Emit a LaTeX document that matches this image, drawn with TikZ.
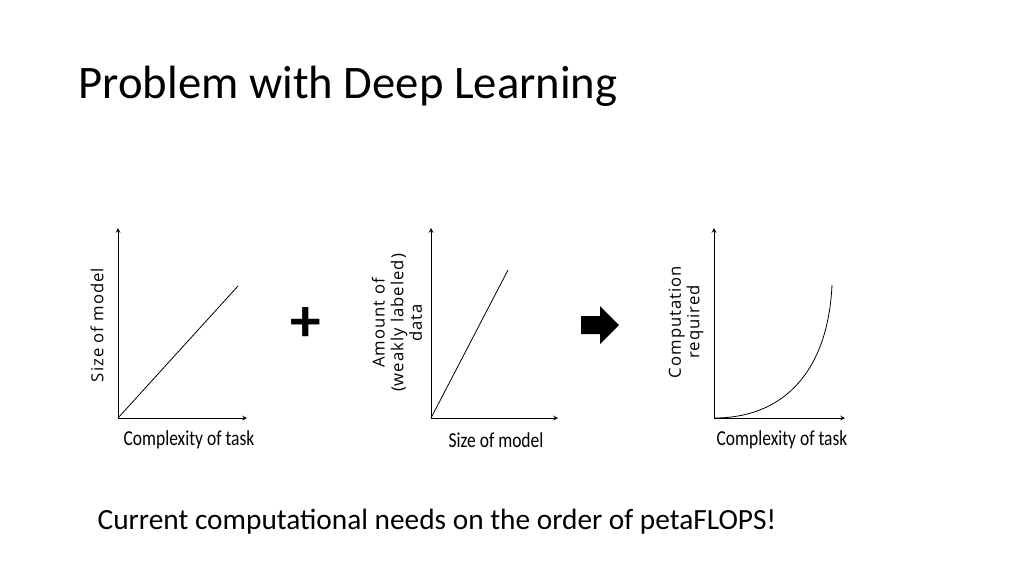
\documentclass[tikz,border=0pt]{standalone}
\usepackage{fontspec}
\setmainfont{Carlito}
\newfontfamily\ylabfont[LetterSpace=6]{Open Sans}
\begin{document}
\begin{tikzpicture}[x=0.75pt,y=-0.75pt,
                    axis/.style={->,semithick,>=stealth},
                    curve/.style={semithick},
                    xlab/.style={font=\fontsize{16}{18}\selectfont,xscale=0.82},
                    ylab/.style={font=\ylabfont\fontsize{12.5}{14}\selectfont,rotate=90,align=center}
                   ]
  \useasboundingbox (0,0) rectangle (1024,576);
  \node[anchor=west,font=\fontsize{35}{38}\selectfont] (title) at (74,86) {Problem with Deep Learning};
  % first chart
  \coordinate (o1) at (118,418);
  \coordinate (y1) at (118,228);
  \coordinate (x1) at (247,418);
  \coordinate (e1) at (238,286);
  \draw[axis] (o1) -- (y1);
  \draw[axis] (o1) -- (x1);
  \draw[curve] (o1) -- (e1);
  \node[ylab] (ylab1) at (97,325) {Size of model};
  \node[xlab] (xlab1) at (189,440) {Complexity of task};
  \node[font=\bfseries\fontsize{46}{46}\selectfont] (plus) at (306,325) {+};
  % second chart
  \coordinate (o2) at (431,418);
  \coordinate (y2) at (431,228);
  \coordinate (x2) at (558,418);
  \coordinate (e2) at (508,270);
  \draw[axis] (o2) -- (y2);
  \draw[axis] (o2) -- (x2);
  \draw[curve] (o2) -- (e2);
  \node[ylab] (ylab2) at (397,323) {Amount of\\(weakly labeled)\\data};
  \node[xlab] (xlab2) at (496,440) {Size of model};
  \fill (581,316) -- (600,316) -- (600,306) -- (619,325) -- (600,344) -- (600,334) -- (581,334) -- cycle;
  % third chart
  \coordinate (o3) at (714,418);
  \coordinate (y3) at (714,228);
  \coordinate (x3) at (845,418);
  \coordinate (e3) at (832,285);
  \draw[axis] (o3) -- (y3);
  \draw[axis] (o3) -- (x3);
  \draw[curve] (o3) .. controls (785,418) and (828,370) .. (e3);
  \node[ylab] (ylab3) at (686,322) {Computation\\required};
  \node[xlab] (xlab3) at (782,440) {Complexity of task};
  \node[anchor=west,font=\fontsize{22}{26}\selectfont] (note) at (93,522) {Current computational needs on the order of petaFLOPS!};
\end{tikzpicture}
\end{document}
